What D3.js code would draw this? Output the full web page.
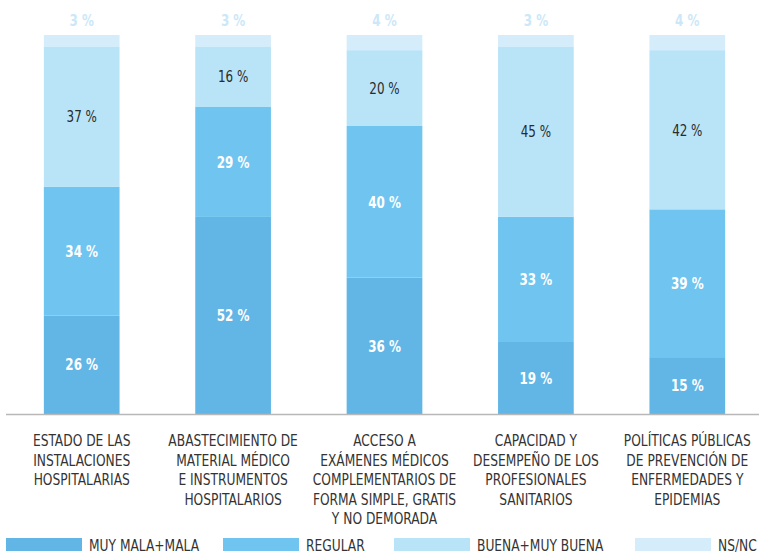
<!DOCTYPE html>
<html lang="es">
<head>
    <meta charset="UTF-8">
    <script src="https://cdn.jsdelivr.net/npm/d3@7"></script>
    <title>Valoración sanidad</title>
    <style>
        body { margin: 0; background: #fff; }
        text { font-family: "DejaVu Sans Condensed", "DejaVu Sans", sans-serif; }
    </style>
</head>
<body>
</body>
<script>
    let categories = [
        ["ESTADO DE LAS", "INSTALACIONES", "HOSPITALARIAS"],
        ["ABASTECIMIENTO DE", "MATERIAL MÉDICO", "E INSTRUMENTOS", "HOSPITALARIOS"],
        ["ACCESO A", "EXÁMENES MÉDICOS", "COMPLEMENTARIOS DE", "FORMA SIMPLE, GRATIS", "Y NO DEMORADA"],
        ["CAPACIDAD Y", "DESEMPEÑO DE LOS", "PROFESIONALES", "SANITARIOS"],
        ["POLÍTICAS PÚBLICAS", "DE PREVENCIÓN DE", "ENFERMEDADES Y", "EPIDEMIAS"]
    ];
    let seriesNames = ["MUY MALA+MALA", "REGULAR", "BUENA+MUY BUENA", "NS/NC"];
    let muyMala = [26, 52, 36, 19, 15];
    let regular = [34, 29, 40, 33, 39];
    let buena = [37, 16, 20, 45, 42];
    let nsnc = [3, 3, 4, 3, 4];

    let colors = ["#62b6e6", "#6fc5ef", "#b9e4f8", "#d5edfa"];
    let labelColors = ["#ffffff", "#ffffff", "#2b2b2b", "#cce8f8"];
    let labelWeights = ["bold", "bold", "normal", "bold"];

    let width = 759, height = 556;
    let squeeze = 0.83; // fuente estrecha
    let svg = d3.select("body").append("svg")
        .attr("width", width)
        .attr("height", height);

    let rows = categories.map((c, i) => ({
        idx: i,
        s0: muyMala[i], s1: regular[i], s2: buena[i], s3: nsnc[i]
    }));

    let stack = d3.stack().keys(["s0", "s1", "s2", "s3"]);
    let series = stack(rows);

    let xScale = d3.scaleBand()
        .domain(d3.range(categories.length))
        .range([6, 763])
        .paddingInner(0.5)
        .paddingOuter(0.25);

    let yScale = d3.scaleLinear()
        .domain([0, 100])
        .range([414, 35]);

    // barras
    let groups = svg.selectAll(".serie")
        .data(series)
        .enter()
        .append("g")
        .attr("fill", (d, i) => colors[i]);

    groups.selectAll("rect")
        .data(d => d)
        .enter()
        .append("rect")
        .attr("x", (d, i) => xScale(i))
        .attr("width", xScale.bandwidth())
        .attr("y", d => yScale(d[1]))
        .attr("height", d => yScale(d[0]) - yScale(d[1]));

    // etiquetas de valor
    series.forEach((s, si) => {
        svg.selectAll(".lbl" + si)
            .data(s)
            .enter()
            .append("text")
            .attr("transform", (d, i) => {
                let x = xScale(i) + xScale.bandwidth() / 2;
                let y = si === 3 ? 20 : yScale((d[0] + d[1]) / 2);
                return `translate(${x}, ${y}) scale(${squeeze}, 1)`;
            })
            .attr("dy", "0.36em")
            .attr("text-anchor", "middle")
            .attr("font-size", 16)
            .attr("font-weight", labelWeights[si])
            .attr("fill", labelColors[si])
            .text(d => (d[1] - d[0]) + " %");
    });

    // eje
    svg.append("line")
        .attr("x1", 6).attr("x2", width)
        .attr("y1", yScale(0) + 0.5).attr("y2", yScale(0) + 0.5)
        .attr("stroke", "#b8b8b8")
        .attr("stroke-width", 1.5);

    // categorías
    let cat = svg.selectAll(".cat")
        .data(categories)
        .enter()
        .append("text")
        .attr("transform", (d, i) => `translate(${xScale(i) + xScale.bandwidth() / 2}, 446) scale(${squeeze}, 1)`)
        .attr("text-anchor", "middle")
        .attr("font-size", 16.4)
        .attr("fill", "#333");
    cat.selectAll("tspan")
        .data(d => d)
        .enter()
        .append("tspan")
        .attr("x", 0)
        .attr("y", (d, j) => j * 19.6)
        .text(d => d);

    // leyenda
    let legendX = [6, 223, 394, 635];
    let legend = svg.selectAll(".leg")
        .data(seriesNames)
        .enter()
        .append("g")
        .attr("transform", (d, i) => `translate(${legendX[i]}, 538)`);
    legend.append("rect")
        .attr("width", 76)
        .attr("height", 13)
        .attr("fill", (d, i) => colors[i]);
    legend.append("text")
        .attr("transform", `translate(83, 12.5) scale(${squeeze}, 1)`)
        .attr("font-size", 16.4)
        .attr("fill", "#333")
        .text(d => d);
</script>
</html>
